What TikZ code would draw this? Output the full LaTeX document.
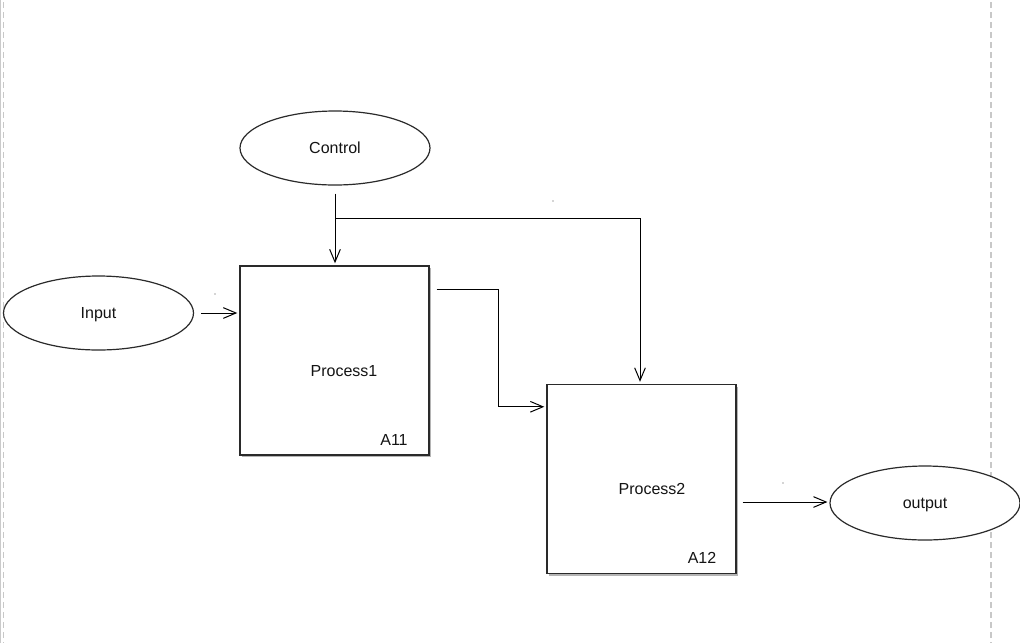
\documentclass[tikz,border=0pt]{standalone}
\usepackage{fontspec}
\setmainfont{Liberation Sans}
\usetikzlibrary{shapes.geometric,arrows.meta,calc,shadows}
\definecolor{edge}{HTML}{2A2A2A}
\definecolor{guide}{HTML}{C8C8C8}
\definecolor{shade}{HTML}{B4B4B4}
\definecolor{ink}{HTML}{141414}
\tikzset{
  flowend/.style={ellipse,draw=edge,line width=0.9pt,fill=white,
    minimum width=142.5pt,minimum height=55.5pt,inner sep=0pt,
    text=ink,text depth=0pt,font=\fontsize{12pt}{14pt}\selectfont},
  procbox/.style={rectangle,draw=edge,line width=1.1pt,fill=white,
    minimum width=141.75pt,minimum height=141.75pt,inner sep=0pt,
    drop shadow={shadow xshift=1.5pt,shadow yshift=-1.5pt,fill=shade,opacity=1}},
  boxtext/.style={inner sep=0pt,text=ink,text depth=0pt,
    font=\fontsize{12pt}{14pt}\selectfont},
  arr/.style={draw=black,line width=0.75pt,
    -{Straight Barb[length=9.5pt,width=8pt,line width=0.75pt]}},
  wire/.style={draw=black,line width=0.75pt},
  fleck/.style={fill=black!70,circle,inner sep=0pt,minimum size=1pt}
}
\begin{document}
\begin{tikzpicture}[x=0.75pt,y=-0.75pt]
\useasboundingbox (0,0) rectangle (1020,643);
\fill[white] (0,0) rectangle (1020,643);
% page guides
\draw[shade!70,line width=1pt] (0.7,0) -- (0.7,643);
\draw[guide,line width=1.2pt,dash pattern=on 4.5pt off 3pt] (3.5,2) -- (3.5,643);
\draw[guide,line width=1.2pt,dash pattern=on 4.5pt off 3pt] (991,2) -- (991,643);

% terminals
\node[flowend] (ctl) at (335,148) {Control};
\node[flowend] (inp) at (98.5,313) {Input};
\node[flowend] (out) at (925,503) {output};

% activity boxes
\node[procbox] (p1) at (334.5,360.5) {};
\node[procbox] (p2) at (641.5,479) {};
\node[boxtext] (p1name) at (344,371) {Process1};
\node[boxtext] (p1id) at (394,440) {A11};
\node[boxtext] (p2name) at (652,489) {Process2};
\node[boxtext] (p2id) at (702,558) {A12};

% control feeds both activities
\coordinate (split) at ($(ctl.south)+(0,33)$);
\draw[wire] ($(ctl.south)+(0,8)$) -- (split);
\draw[arr] (split) -- ($(p1.north)+(0.5,-2)$);
\draw[arr] (split) -| ($(p2.north)+(-1.5,-2)$);

% input and flow between activities
\draw[arr] ($(inp.east)+(7,0)$) -- ($(p1.west)+(-2,-47.5)$);
\coordinate (p1out) at ($(p1.north east)+(7,24)$);
\draw[arr] (p1out) -- ++(62,0) |- ($(p2.north west)+(-2,23)$);
\draw[arr] ($(p2.east)+(6,23)$) -- ($(out.west)+(-2,-1)$);

% stray marks
\node[fleck] (f1) at (215,294) {};
\node[fleck] (f2) at (553,201) {};
\node[fleck] (f3) at (783,483) {};
\end{tikzpicture}
\end{document}
